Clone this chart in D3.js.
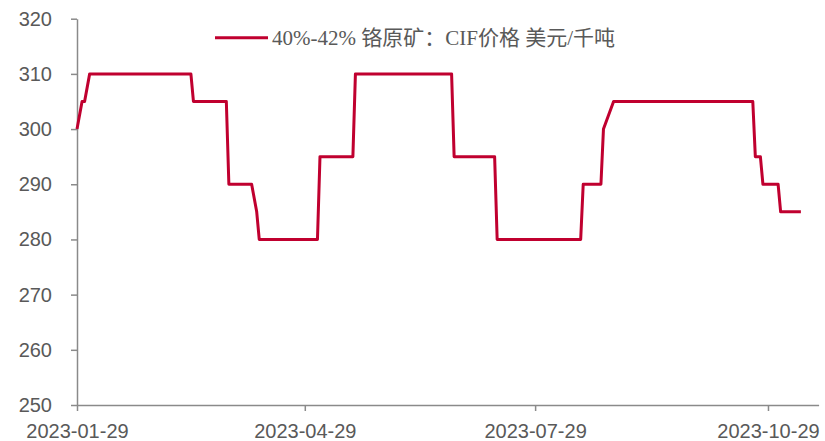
<!DOCTYPE html>
<html>
<head>
<meta charset="utf-8">
<script src="https://cdn.jsdelivr.net/npm/d3@7"></script>
<style>
  html, body { margin: 0; padding: 0; background: #fff; }
  svg { display: block; }
</style>
</head>
<body>
<svg id="chart" width="825" height="441"></svg>
<script>
// ---- data ----
const dates = [
  "2023-01-29","2023-01-31","2023-02-01","2023-02-03",
  "2023-03-15","2023-03-16","2023-03-29","2023-03-30",
  "2023-04-08","2023-04-10","2023-04-11","2023-05-04",
  "2023-05-05","2023-05-18","2023-05-19","2023-06-26",
  "2023-06-27","2023-07-13","2023-07-14","2023-08-16",
  "2023-08-17","2023-08-24","2023-08-25","2023-08-29",
  "2023-10-23","2023-10-24","2023-10-26","2023-10-27",
  "2023-11-02","2023-11-03","2023-11-11"
];
const prices = [
  300, 305, 305, 310,
  310, 305, 305, 290,
  290, 285, 280, 280,
  295, 295, 310, 310,
  295, 295, 280, 280,
  290, 290, 300, 305,
  305, 295, 295, 290,
  290, 285, 285
];
const seriesName = "40%-42% 铬原矿：CIF价格 美元/千吨";
const yTicks = [250, 260, 270, 280, 290, 300, 310, 320];
const xTicks = ["2023-01-29", "2023-04-29", "2023-07-29", "2023-10-29"];
const xDomain = ["2023-01-29", "2023-11-18"];
const yDomain = [250, 320];

// ---- setup ----
const parse = d3.utcParse("%Y-%m-%d");
const fmt = d3.utcFormat("%Y-%m-%d");
const data = dates.map((d, i) => ({ date: parse(d), value: prices[i] }));

const svg = d3.select("#chart");
const mLeft = 77, mRight = 818.6, mTop = 18.7, mBottom = 405;

const x = d3.scaleUtc().domain(xDomain.map(parse)).range([mLeft, mRight]);
const y = d3.scaleLinear().domain(yDomain).range([mBottom, mTop]);

const axisColor = "#8a8a8a";
const textColor = "#595959";

// y axis
const yAxis = svg.append("g")
  .attr("transform", `translate(${mLeft},0)`)
  .call(d3.axisLeft(y).tickValues(yTicks).tickSize(6).tickSizeOuter(0).tickPadding(19).tickFormat(d3.format("d")));
yAxis.select(".domain").attr("stroke", axisColor).attr("stroke-width", 1.5);
yAxis.selectAll(".tick line").attr("stroke", axisColor).attr("stroke-width", 1.5);
yAxis.selectAll(".tick text")
  .attr("fill", textColor)
  .style("font-family", "'Liberation Sans', Arial, sans-serif")
  .style("font-size", "20px");

// x axis
const xAxis = svg.append("g")
  .attr("transform", `translate(0,${mBottom})`)
  .call(d3.axisBottom(x).tickValues(xTicks.map(parse)).tickSize(6).tickSizeOuter(0).tickPadding(13).tickFormat(fmt));
xAxis.select(".domain").attr("stroke", axisColor).attr("stroke-width", 1.5);
xAxis.selectAll(".tick line").attr("stroke", axisColor).attr("stroke-width", 1.5);
xAxis.selectAll(".tick text")
  .attr("fill", textColor)
  .style("font-family", "'Liberation Sans', Arial, sans-serif")
  .style("font-size", "20px");

// line
const line = d3.line().x(d => x(d.date)).y(d => y(d.value));
svg.append("path")
  .datum(data)
  .attr("fill", "none")
  .attr("stroke", "#C0002F")
  .attr("stroke-width", 3)
  .attr("stroke-linejoin", "round")
  .attr("d", line);

// legend
const lg = svg.append("g").attr("transform", "translate(215,37.7)");
lg.append("line")
  .attr("x1", 0).attr("x2", 53).attr("y1", 0).attr("y2", 0)
  .attr("stroke", "#C0002F").attr("stroke-width", 3);
lg.append("text")
  .attr("x", 57).attr("y", 7)
  .attr("fill", textColor)
  .style("font-family", "'Liberation Serif', 'Times New Roman', 'Noto Sans CJK SC', serif")
  .style("font-size", "21px")
  .text(seriesName);
</script>
</body>
</html>
